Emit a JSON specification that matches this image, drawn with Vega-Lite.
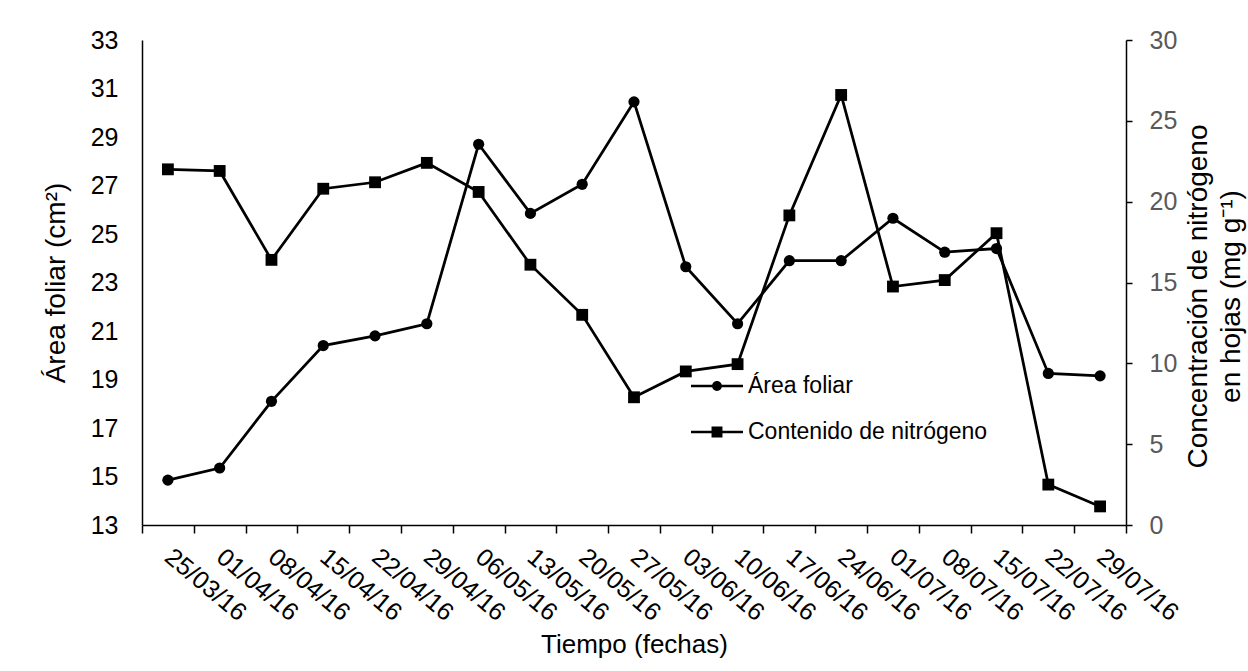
{
  "$schema": "https://vega.github.io/schema/vega-lite/v6.json",
  "width": 984,
  "height": 485,
  "autosize": {"type": "none"},
  "padding": {"left": 142, "top": 40, "right": 122, "bottom": 146},
  "background": "white",
  "config": {
    "font": "Liberation Sans",
    "view": {"stroke": null},
    "axis": {"grid": false, "domainColor": "black", "domainWidth": 1.5, "tickColor": "black", "tickWidth": 1.5, "titleFontWeight": "normal", "titleColor": "black", "labelColor": "black"}
  },
  "data": {
    "values": [
      {"fecha": "25/03/16", "area": 14.85, "nitrogeno": 22.0},
      {"fecha": "01/04/16", "area": 15.35, "nitrogeno": 21.9},
      {"fecha": "08/04/16", "area": 18.1, "nitrogeno": 16.4},
      {"fecha": "15/04/16", "area": 20.4, "nitrogeno": 20.8},
      {"fecha": "22/04/16", "area": 20.8, "nitrogeno": 21.2},
      {"fecha": "29/04/16", "area": 21.3, "nitrogeno": 22.4},
      {"fecha": "06/05/16", "area": 28.7, "nitrogeno": 20.6},
      {"fecha": "13/05/16", "area": 25.85, "nitrogeno": 16.1},
      {"fecha": "20/05/16", "area": 27.05, "nitrogeno": 13.0},
      {"fecha": "27/05/16", "area": 30.45, "nitrogeno": 7.9},
      {"fecha": "03/06/16", "area": 23.65, "nitrogeno": 9.5},
      {"fecha": "10/06/16", "area": 21.3, "nitrogeno": 9.95},
      {"fecha": "17/06/16", "area": 23.9, "nitrogeno": 19.15},
      {"fecha": "24/06/16", "area": 23.9, "nitrogeno": 26.6},
      {"fecha": "01/07/16", "area": 25.65, "nitrogeno": 14.75},
      {"fecha": "08/07/16", "area": 24.25, "nitrogeno": 15.15},
      {"fecha": "15/07/16", "area": 24.4, "nitrogeno": 18.05},
      {"fecha": "22/07/16", "area": 19.25, "nitrogeno": 2.5},
      {"fecha": "29/07/16", "area": 19.15, "nitrogeno": 1.15}
    ]
  },
  "encoding": {
    "x": {
      "field": "fecha",
      "type": "ordinal",
      "sort": null,
      "scale": {"paddingInner": 0, "paddingOuter": 0},
      "axis": {
        "title": "Tiempo (fechas)",
        "titleFontSize": 26,
        "titlePadding": 6,
        "labelFontSize": 25,
        "labelAngle": 40,
        "labelAlign": "left",
        "labelBaseline": "middle",
        "labelPadding": 20,
        "labelOverlap": false,
        "labelBound": false,
        "labelFlush": false,
        "tickBand": "extent",
        "tickSize": 8
      }
    }
  },
  "layer": [
    {
      "layer": [
        {
          "mark": {"type": "line", "color": "black", "strokeWidth": 2.75},
          "encoding": {
            "y": {
              "field": "area",
              "type": "quantitative",
              "scale": {"domain": [13, 33], "nice": false, "zero": false},
              "axis": {
                "orient": "left",
                "title": "Área foliar (cm²)",
                "titleFontSize": 28,
                "titlePadding": 20,
                "values": [13, 15, 17, 19, 21, 23, 25, 27, 29, 31, 33],
                "ticks": false,
                "tickSize": 0,
                "labelFontSize": 25,
                "labelPadding": 24
              }
            }
          }
        },
        {
          "mark": {"type": "point", "shape": "circle", "filled": true, "color": "black", "opacity": 1, "size": 125},
          "encoding": {
            "y": {"field": "area", "type": "quantitative"}
          }
        },
        {
          "data": {"values": []},
          "mark": {"type": "point", "filled": true, "color": "black", "opacity": 1},
          "encoding": {
            "shape": {
              "datum": "Área foliar",
              "type": "nominal",
              "scale": {
                "domain": ["Área foliar", "Contenido de nitrógeno"],
                "range": [
                  "M-2,-0.1L-0.3,-0.1L-0.3,0.1L-2,0.1ZM0.3,-0.1L2,-0.1L2,0.1L0.3,0.1ZM-0.38,0A0.38,0.38,0,1,1,0.38,0A0.38,0.38,0,1,1,-0.38,0Z",
                  "M-2,-0.1L-0.35,-0.1L-0.35,0.1L-2,0.1ZM0.35,-0.1L2,-0.1L2,0.1L0.35,0.1ZM-0.42,-0.42L0.42,-0.42L0.42,0.42L-0.42,0.42Z"
                ]
              },
              "legend": {
                "title": null,
                "orient": "none",
                "legendX": 561,
                "legendY": 332,
                "padding": 0,
                "symbolSize": 676,
                "labelFontSize": 23,
                "labelColor": "black",
                "labelLimit": 0,
                "labelOffset": 17,
                "rowPadding": 20,
                "symbolFillColor": "black",
                "symbolOpacity": 1,
                "encode": {
                  "symbols": {
                    "fill": {"value": "black"},
                    "opacity": {"value": 1}
                  }
                }
              }
            }
          }
        }
      ]
    },
    {
      "layer": [
        {
          "mark": {"type": "line", "color": "black", "strokeWidth": 2.75},
          "encoding": {
            "y": {
              "field": "nitrogeno",
              "type": "quantitative",
              "scale": {"domain": [0, 30], "nice": false},
              "axis": {
                "orient": "right",
                "title": ["Concentración de nitrógeno", "en hojas (mg g⁻¹)"],
                "titleFontSize": 28,
                "titleAngle": 270,
                "titleBaseline": "top",
                "titleAlign": "center",
                "titleLineHeight": 33,
                "titleX": 58,
                "titleY": 256,
                "values": [0, 5, 10, 15, 20, 25, 30],
                "tickSize": 6,
                "labelFontSize": 25,
                "labelPadding": 17,
                "labelColor": "#595959"
              }
            }
          }
        },
        {
          "mark": {"type": "point", "shape": "square", "filled": true, "color": "black", "opacity": 1, "size": 140},
          "encoding": {
            "y": {"field": "nitrogeno", "type": "quantitative"}
          }
        }
      ]
    }
  ],
  "resolve": {"scale": {"y": "independent"}}
}
